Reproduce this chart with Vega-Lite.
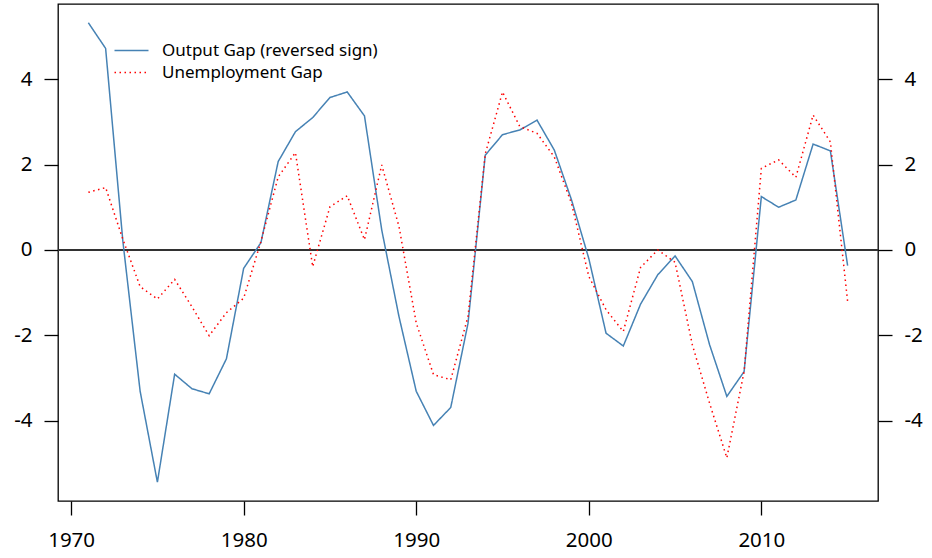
{
  "$schema": "https://vega.github.io/schema/vega-lite/v6.json",
  "width": 820,
  "height": 497,
  "autosize": {"type": "none"},
  "padding": {"left": 58, "top": 4, "right": 54, "bottom": 57},
  "background": "white",
  "config": {
    "font": "Noto Sans",
    "view": {"stroke": "black", "strokeWidth": 1.3},
    "axis": {
      "domain": false,
      "grid": false,
      "ticks": true,
      "tickColor": "black",
      "tickWidth": 1.3,
      "tickSize": 14,
      "labelFontSize": 20.5,
      "labelColor": "black",
      "labelFont": "Noto Sans",
      "labelExpr": "toString(datum.value)",
      "title": null
    }
  },
  "data": {
    "values": [
      {"year": 1971, "series": "Output Gap (reversed sign)", "value": 5.32},
      {"year": 1972, "series": "Output Gap (reversed sign)", "value": 4.72},
      {"year": 1973, "series": "Output Gap (reversed sign)", "value": 0.2},
      {"year": 1974, "series": "Output Gap (reversed sign)", "value": -3.31},
      {"year": 1975, "series": "Output Gap (reversed sign)", "value": -5.44},
      {"year": 1976, "series": "Output Gap (reversed sign)", "value": -2.91},
      {"year": 1977, "series": "Output Gap (reversed sign)", "value": -3.25},
      {"year": 1978, "series": "Output Gap (reversed sign)", "value": -3.37},
      {"year": 1979, "series": "Output Gap (reversed sign)", "value": -2.55},
      {"year": 1980, "series": "Output Gap (reversed sign)", "value": -0.43},
      {"year": 1981, "series": "Output Gap (reversed sign)", "value": 0.17},
      {"year": 1982, "series": "Output Gap (reversed sign)", "value": 2.07},
      {"year": 1983, "series": "Output Gap (reversed sign)", "value": 2.77},
      {"year": 1984, "series": "Output Gap (reversed sign)", "value": 3.1},
      {"year": 1985, "series": "Output Gap (reversed sign)", "value": 3.57},
      {"year": 1986, "series": "Output Gap (reversed sign)", "value": 3.7},
      {"year": 1987, "series": "Output Gap (reversed sign)", "value": 3.14},
      {"year": 1988, "series": "Output Gap (reversed sign)", "value": 0.47},
      {"year": 1989, "series": "Output Gap (reversed sign)", "value": -1.56},
      {"year": 1990, "series": "Output Gap (reversed sign)", "value": -3.31},
      {"year": 1991, "series": "Output Gap (reversed sign)", "value": -4.11},
      {"year": 1992, "series": "Output Gap (reversed sign)", "value": -3.69},
      {"year": 1993, "series": "Output Gap (reversed sign)", "value": -1.72},
      {"year": 1994, "series": "Output Gap (reversed sign)", "value": 2.22},
      {"year": 1995, "series": "Output Gap (reversed sign)", "value": 2.7},
      {"year": 1996, "series": "Output Gap (reversed sign)", "value": 2.81},
      {"year": 1997, "series": "Output Gap (reversed sign)", "value": 3.04},
      {"year": 1998, "series": "Output Gap (reversed sign)", "value": 2.34},
      {"year": 1999, "series": "Output Gap (reversed sign)", "value": 1.17},
      {"year": 2000, "series": "Output Gap (reversed sign)", "value": -0.2},
      {"year": 2001, "series": "Output Gap (reversed sign)", "value": -1.95},
      {"year": 2002, "series": "Output Gap (reversed sign)", "value": -2.25},
      {"year": 2003, "series": "Output Gap (reversed sign)", "value": -1.27},
      {"year": 2004, "series": "Output Gap (reversed sign)", "value": -0.58},
      {"year": 2005, "series": "Output Gap (reversed sign)", "value": -0.14},
      {"year": 2006, "series": "Output Gap (reversed sign)", "value": -0.74},
      {"year": 2007, "series": "Output Gap (reversed sign)", "value": -2.22},
      {"year": 2008, "series": "Output Gap (reversed sign)", "value": -3.43},
      {"year": 2009, "series": "Output Gap (reversed sign)", "value": -2.85},
      {"year": 2010, "series": "Output Gap (reversed sign)", "value": 1.25},
      {"year": 2011, "series": "Output Gap (reversed sign)", "value": 1.0},
      {"year": 2012, "series": "Output Gap (reversed sign)", "value": 1.17},
      {"year": 2013, "series": "Output Gap (reversed sign)", "value": 2.48},
      {"year": 2014, "series": "Output Gap (reversed sign)", "value": 2.32},
      {"year": 2015, "series": "Output Gap (reversed sign)", "value": -0.37},
      {"year": 1971, "series": "Unemployment Gap", "value": 1.35},
      {"year": 1972, "series": "Unemployment Gap", "value": 1.46},
      {"year": 1973, "series": "Unemployment Gap", "value": 0.25},
      {"year": 1974, "series": "Unemployment Gap", "value": -0.86},
      {"year": 1975, "series": "Unemployment Gap", "value": -1.15},
      {"year": 1976, "series": "Unemployment Gap", "value": -0.69},
      {"year": 1977, "series": "Unemployment Gap", "value": -1.33},
      {"year": 1978, "series": "Unemployment Gap", "value": -2.01},
      {"year": 1979, "series": "Unemployment Gap", "value": -1.47},
      {"year": 1980, "series": "Unemployment Gap", "value": -1.13},
      {"year": 1981, "series": "Unemployment Gap", "value": 0.2},
      {"year": 1982, "series": "Unemployment Gap", "value": 1.71},
      {"year": 1983, "series": "Unemployment Gap", "value": 2.28},
      {"year": 1984, "series": "Unemployment Gap", "value": -0.39},
      {"year": 1985, "series": "Unemployment Gap", "value": 1.01},
      {"year": 1986, "series": "Unemployment Gap", "value": 1.27},
      {"year": 1987, "series": "Unemployment Gap", "value": 0.24},
      {"year": 1988, "series": "Unemployment Gap", "value": 1.99},
      {"year": 1989, "series": "Unemployment Gap", "value": 0.55},
      {"year": 1990, "series": "Unemployment Gap", "value": -1.71},
      {"year": 1991, "series": "Unemployment Gap", "value": -2.92},
      {"year": 1992, "series": "Unemployment Gap", "value": -3.04},
      {"year": 1993, "series": "Unemployment Gap", "value": -1.56},
      {"year": 1994, "series": "Unemployment Gap", "value": 2.25},
      {"year": 1995, "series": "Unemployment Gap", "value": 3.7},
      {"year": 1996, "series": "Unemployment Gap", "value": 2.89},
      {"year": 1997, "series": "Unemployment Gap", "value": 2.73},
      {"year": 1998, "series": "Unemployment Gap", "value": 2.18},
      {"year": 1999, "series": "Unemployment Gap", "value": 1.09},
      {"year": 2000, "series": "Unemployment Gap", "value": -0.62},
      {"year": 2001, "series": "Unemployment Gap", "value": -1.4},
      {"year": 2002, "series": "Unemployment Gap", "value": -1.91},
      {"year": 2003, "series": "Unemployment Gap", "value": -0.41},
      {"year": 2004, "series": "Unemployment Gap", "value": 0.0},
      {"year": 2005, "series": "Unemployment Gap", "value": -0.29},
      {"year": 2006, "series": "Unemployment Gap", "value": -2.22},
      {"year": 2007, "series": "Unemployment Gap", "value": -3.59},
      {"year": 2008, "series": "Unemployment Gap", "value": -4.87},
      {"year": 2009, "series": "Unemployment Gap", "value": -2.85},
      {"year": 2010, "series": "Unemployment Gap", "value": 1.91},
      {"year": 2011, "series": "Unemployment Gap", "value": 2.11},
      {"year": 2012, "series": "Unemployment Gap", "value": 1.7},
      {"year": 2013, "series": "Unemployment Gap", "value": 3.16},
      {"year": 2014, "series": "Unemployment Gap", "value": 2.53},
      {"year": 2015, "series": "Unemployment Gap", "value": -1.21}
    ]
  },
  "layer": [
    {
      "mark": {"type": "rule", "color": "#333333", "strokeWidth": 1.5},
      "encoding": {
        "y": {
          "datum": 0,
          "type": "quantitative",
          "scale": {"domain": [-5.88, 5.76], "nice": false, "zero": false},
          "axis": {"orient": "left", "values": [-4, -2, 0, 2, 4], "labelPadding": 12}
        }
      }
    },
    {
      "mark": {"type": "line", "strokeWidth": 1.5, "clip": true},
      "encoding": {
        "x": {
          "field": "year",
          "type": "quantitative",
          "scale": {"domain": [1969.24, 2016.76], "nice": false, "zero": false},
          "axis": {"orient": "bottom", "values": [1970, 1980, 1990, 2000, 2010], "labelPadding": 15}
        },
        "y": {
          "field": "value",
          "type": "quantitative",
          "axis": {"orient": "right", "values": [-4, -2, 0, 2, 4], "labelPadding": 12}
        },
        "color": {
          "field": "series",
          "type": "nominal",
          "scale": {"domain": ["Output Gap (reversed sign)", "Unemployment Gap"], "range": ["#4682B4", "#FF0000"]},
          "legend": {
            "title": null,
            "orient": "none",
            "legendX": 64,
            "legendY": 37,
            "padding": 0,
            "symbolType": "M-2,0H2",
            "symbolSize": 289,
            "symbolStrokeWidth": 1.5,
            "labelFontSize": 17,
            "labelFont": "Noto Sans",
            "labelColor": "black",
            "labelOffset": 21,
            "labelLimit": 0,
            "rowPadding": 4
          }
        },
        "strokeDash": {
          "field": "series",
          "type": "nominal",
          "scale": {"domain": ["Output Gap (reversed sign)", "Unemployment Gap"], "range": [[1, 0], [1.5, 3.5]]},
          "legend": {
            "title": null,
            "orient": "none",
            "legendX": 64,
            "legendY": 37,
            "padding": 0,
            "symbolType": "M-2,0H2",
            "symbolSize": 289,
            "symbolStrokeWidth": 1.5,
            "labelFontSize": 17,
            "labelFont": "Noto Sans",
            "labelColor": "black",
            "labelOffset": 21,
            "labelLimit": 0,
            "rowPadding": 4
          }
        }
      }
    }
  ],
  "resolve": {"axis": {"y": "independent"}}
}
